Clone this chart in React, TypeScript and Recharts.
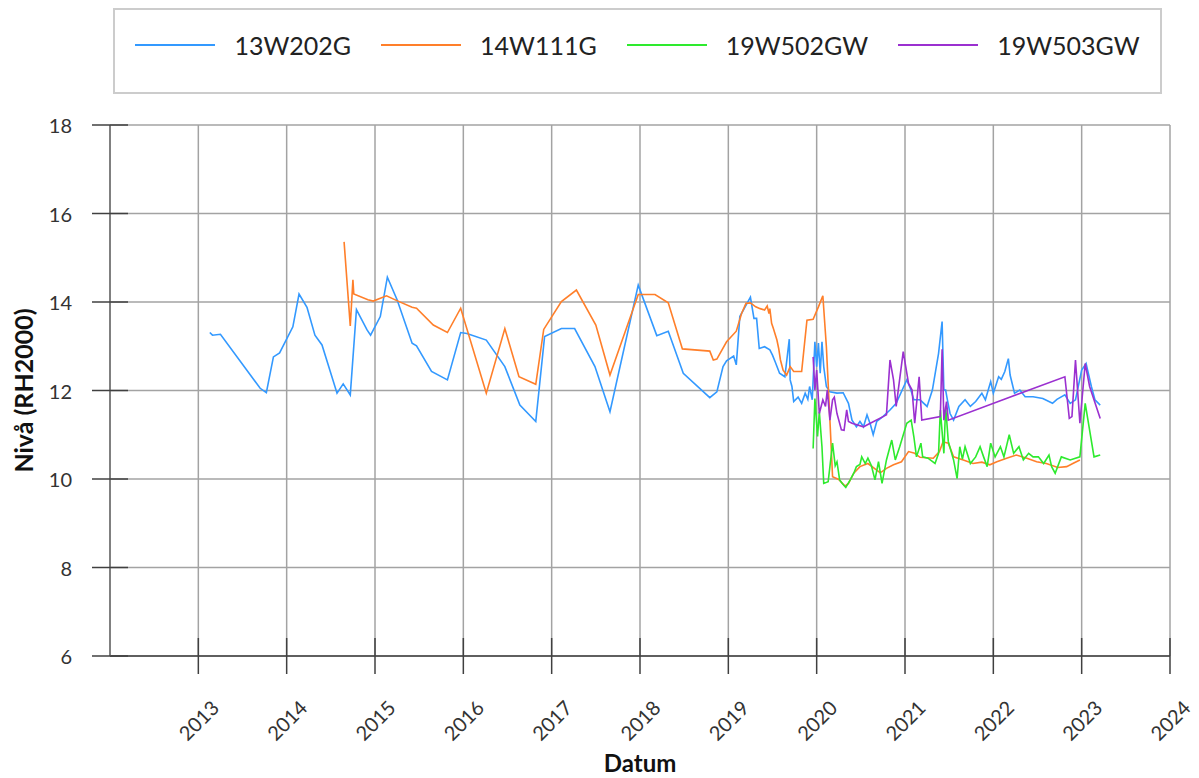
import { CartesianGrid, Label, Line, LineChart, XAxis, YAxis } from 'recharts';

// groundwater level per well, dates as decimal years, level in m (RH2000)
const years = [2013, 2014, 2015, 2016, 2017, 2018, 2019, 2020, 2021, 2022, 2023, 2024];
const levelTicks = [6, 8, 10, 12, 14, 16, 18];

const seriesNames  = ['13W202G', '14W111G', '19W502GW', '19W503GW'];
const seriesColors = ['#3399ff', '#ff7f2a', '#2eea2e', '#9b30d0'];

const dates13W202G = [
  2013.13, 2013.16, 2013.25, 2013.70, 2013.77, 2013.85, 2013.92, 2014.07, 2014.14, 2014.23,
  2014.32, 2014.40, 2014.57, 2014.64, 2014.72, 2014.79, 2014.91, 2014.95, 2015.06, 2015.14,
  2015.25, 2015.42, 2015.47, 2015.64, 2015.82, 2015.97, 2016.04, 2016.26, 2016.47, 2016.64,
  2016.82, 2016.92, 2017.11, 2017.26, 2017.49, 2017.66, 2017.98, 2018.19, 2018.32, 2018.49,
  2018.79, 2018.87, 2018.94, 2018.98, 2019.06, 2019.09, 2019.13, 2019.25, 2019.29, 2019.32,
  2019.35, 2019.41, 2019.47, 2019.50, 2019.53, 2019.58, 2019.64, 2019.69, 2019.70, 2019.72,
  2019.74, 2019.79, 2019.83, 2019.87, 2019.90, 2019.92, 2019.95, 2019.98, 2020.00, 2020.02,
  2020.04, 2020.06, 2020.08, 2020.11, 2020.15, 2020.23, 2020.30, 2020.36, 2020.40, 2020.45,
  2020.49, 2020.53, 2020.57, 2020.61, 2020.64, 2020.68, 2020.75, 2020.83, 2020.90, 2021.02,
  2021.06, 2021.10, 2021.17, 2021.25, 2021.31, 2021.38, 2021.42, 2021.44, 2021.46, 2021.48,
  2021.51, 2021.55, 2021.61, 2021.68, 2021.74, 2021.80, 2021.87, 2021.91, 2021.97, 2022.00,
  2022.06, 2022.09, 2022.13, 2022.17, 2022.19, 2022.24, 2022.30, 2022.36, 2022.45, 2022.56,
  2022.67, 2022.72, 2022.81, 2022.87, 2022.93, 2023.00, 2023.05, 2023.11, 2023.15, 2023.21,
];
const levels13W202G = [
  13.31, 13.25, 13.27, 12.05, 11.95, 12.76, 12.85, 13.44, 14.18, 13.88,
  13.25, 13.03, 11.94, 12.15, 11.90, 13.83, 13.37, 13.25, 13.67, 14.56,
  14.05, 13.07, 13.01, 12.43, 12.24, 13.31, 13.29, 13.14, 12.54, 11.67,
  11.30, 13.22, 13.40, 13.40, 12.54, 11.52, 14.38, 13.24, 13.34, 12.39,
  11.84, 11.97, 12.54, 12.67, 12.78, 12.58, 13.67, 14.11, 13.63, 13.63,
  12.95, 12.99, 12.92, 12.80, 12.65, 12.39, 12.31, 13.16, 12.24, 12.09,
  11.75, 11.85, 11.71, 11.94, 11.80, 12.09, 11.79, 13.10, 12.54, 13.07,
  12.39, 13.10, 12.54, 12.09, 11.97, 11.94, 11.95, 11.71, 11.33, 11.18,
  11.30, 11.18, 11.45, 11.22, 11.00, 11.30, 11.41, 11.56, 11.71, 12.24,
  12.05, 11.79, 11.79, 11.64, 12.01, 12.84, 13.56, 12.01, 12.01, 11.79,
  11.48, 11.33, 11.64, 11.79, 11.64, 11.75, 11.94, 11.79, 12.20, 11.94,
  12.31, 12.25, 12.43, 12.72, 12.35, 11.94, 12.01, 11.86, 11.86, 11.82,
  11.71, 11.80, 11.90, 11.71, 11.79, 12.46, 12.61, 12.09, 11.79, 11.67,
];

const dates14W111G = [
  2014.65, 2014.72, 2014.75, 2014.76, 2014.92, 2014.98, 2015.13, 2015.26, 2015.42, 2015.47,
  2015.66, 2015.82, 2015.97, 2016.26, 2016.47, 2016.63, 2016.82, 2016.91, 2017.11, 2017.28,
  2017.50, 2017.66, 2017.98, 2018.17, 2018.32, 2018.48, 2018.79, 2018.83, 2018.87, 2018.98,
  2019.09, 2019.15, 2019.20, 2019.25, 2019.31, 2019.36, 2019.41, 2019.44, 2019.46, 2019.47,
  2019.49, 2019.51, 2019.55, 2019.57, 2019.59, 2019.62, 2019.66, 2019.70, 2019.74, 2019.83,
  2019.89, 2019.96, 2020.02, 2020.07, 2020.11, 2020.15, 2020.18, 2020.25, 2020.32, 2020.36,
  2020.42, 2020.49, 2020.58, 2020.68, 2020.72, 2020.79, 2020.87, 2020.96, 2021.04, 2021.11,
  2021.17, 2021.32, 2021.39, 2021.43, 2021.49, 2021.55, 2021.66, 2021.77, 2021.87, 2021.96,
  2022.04, 2022.15, 2022.26, 2022.38, 2022.49, 2022.60, 2022.73, 2022.83, 2022.90, 2022.98,
];
const levels14W111G = [
  15.36, 13.46, 14.50, 14.18, 14.05, 14.02, 14.14, 14.02, 13.88, 13.86,
  13.48, 13.31, 13.86, 11.94, 13.40, 12.31, 12.14, 13.38, 14.01, 14.27,
  13.48, 12.35, 14.17, 14.17, 13.98, 12.94, 12.89, 12.69, 12.71, 13.10,
  13.34, 13.74, 13.97, 13.98, 13.89, 13.85, 13.82, 13.91, 13.74, 13.85,
  13.52, 13.40, 13.14, 12.95, 12.69, 12.46, 12.35, 12.54, 12.43, 12.43,
  13.59, 13.61, 13.89, 14.14, 12.99, 11.33, 10.05, 9.99, 9.84, 9.90,
  10.13, 10.28, 10.35, 10.20, 10.14, 10.24, 10.32, 10.39, 10.62, 10.58,
  10.49, 10.47, 10.62, 10.84, 10.81, 10.50, 10.43, 10.35, 10.38, 10.32,
  10.39, 10.47, 10.54, 10.47, 10.39, 10.35, 10.26, 10.28, 10.35, 10.43,
];

const dates19W502GW = [
  2019.96, 2019.98, 2020.01, 2020.03, 2020.06, 2020.08, 2020.13, 2020.15, 2020.18, 2020.21,
  2020.23, 2020.26, 2020.29, 2020.33, 2020.38, 2020.42, 2020.45, 2020.49, 2020.51, 2020.55,
  2020.58, 2020.62, 2020.66, 2020.70, 2020.74, 2020.79, 2020.85, 2020.89, 2020.94, 2021.02,
  2021.07, 2021.10, 2021.13, 2021.18, 2021.20, 2021.26, 2021.34, 2021.38, 2021.40, 2021.44,
  2021.46, 2021.49, 2021.55, 2021.59, 2021.62, 2021.65, 2021.68, 2021.74, 2021.80, 2021.85,
  2021.89, 2021.93, 2021.97, 2022.02, 2022.08, 2022.12, 2022.18, 2022.23, 2022.29, 2022.34,
  2022.40, 2022.45, 2022.51, 2022.57, 2022.63, 2022.66, 2022.70, 2022.77, 2022.87, 2022.98,
  2023.04, 2023.14, 2023.21,
];
const levels19W502GW = [
  10.69, 11.82, 10.96, 11.52, 10.73, 9.90, 9.94, 10.28, 10.81, 10.30,
  10.39, 9.98, 9.90, 9.81, 9.98, 10.13, 10.28, 10.33, 10.50, 10.35,
  10.47, 10.30, 9.98, 10.39, 9.90, 10.43, 10.88, 10.43, 10.73, 11.26,
  11.33, 10.96, 10.50, 10.81, 10.50, 10.47, 10.35, 10.58, 11.56, 10.58,
  11.64, 10.85, 10.43, 10.01, 10.73, 10.45, 10.73, 10.35, 10.50, 10.73,
  10.50, 10.28, 10.81, 10.50, 10.73, 10.50, 11.00, 10.58, 10.73, 10.43,
  10.58, 10.50, 10.50, 10.35, 10.54, 10.28, 10.13, 10.50, 10.43, 10.50,
  11.71, 10.50, 10.54,
];

const dates19W503GW = [
  2019.96, 2019.98, 2020.00, 2020.03, 2020.07, 2020.10, 2020.12, 2020.15, 2020.18, 2020.20,
  2020.23, 2020.26, 2020.28, 2020.31, 2020.34, 2020.36, 2020.40, 2020.53, 2020.79, 2020.83,
  2020.87, 2020.90, 2020.98, 2021.04, 2021.08, 2021.11, 2021.16, 2021.19, 2021.40, 2021.42,
  2021.44, 2021.47, 2021.49, 2022.81, 2022.86, 2022.89, 2022.93, 2022.98, 2023.04, 2023.09,
  2023.21,
];
const levels19W503GW = [
  12.76, 12.01, 12.46, 11.48, 11.79, 11.64, 12.01, 11.33, 11.79, 11.85,
  11.48, 11.26, 11.11, 11.10, 11.56, 11.30, 11.26, 11.18, 11.45, 12.69,
  12.24, 11.64, 12.88, 12.16, 12.01, 11.26, 12.31, 11.33, 11.41, 12.93,
  11.33, 11.75, 11.33, 12.31, 11.37, 11.41, 12.69, 11.26, 12.61, 12.09,
  11.37,
];

const zip = (dates: number[], levels: number[]) => dates.map((t, i) => ({ t, v: levels[i] }));

const seriesData = [
  zip(dates13W202G, levels13W202G),
  zip(dates14W111G, levels14W111G),
  zip(dates19W502GW, levels19W502GW),
  zip(dates19W503GW, levels19W503GW),
];

const FONT = 'Lato, "Open Sans", sans-serif';
const INK = '#333333';

function LevelTick({ x, y, payload }: any) {
  return (
    <g>
      <line x1={x - 18} x2={x + 18} y1={y} y2={y} stroke="#404040" strokeWidth={1.5} />
      <text x={x - 38} y={y} textAnchor="end" dominantBaseline="central"
        fontFamily={FONT} fontSize={20} fill={INK}>
        {payload.value}
      </text>
    </g>
  );
}

function YearTick({ x, y, payload }: any) {
  const ly = y + 64;
  return (
    <g>
      <line x1={x} x2={x} y1={y - 18} y2={y + 18} stroke="#404040" strokeWidth={1.5} />
      <text x={x} y={ly} textAnchor="middle" dominantBaseline="central"
        transform={`rotate(-45, ${x}, ${ly})`}
        fontFamily={FONT} fontSize={20} fill={INK}>
        {payload.value}
      </text>
    </g>
  );
}

function YTitle({ viewBox }: any) {
  const vb = viewBox ?? { x: 0, y: 125, width: 110, height: 531 };
  const cx = vb.x + 23;
  const cy = vb.y + vb.height / 2;
  return (
    <text x={cx} y={cy} textAnchor="middle" dominantBaseline="central"
      transform={`rotate(-90, ${cx}, ${cy})`}
      fontFamily={FONT} fontWeight="bold" fontSize={25} fill="#111">
      Nivå (RH2000)
    </text>
  );
}

function XTitle({ viewBox }: any) {
  const vb = viewBox ?? { x: 110, y: 656, width: 1060, height: 122 };
  return (
    <text x={vb.x + vb.width / 2} y={vb.y + 106} textAnchor="middle" dominantBaseline="central"
      fontFamily={FONT} fontWeight="bold" fontSize={24} fill="#111">
      Datum
    </text>
  );
}

function LegendBox() {
  return (
    <div style={{
      position: 'absolute', left: 113, top: 8, width: 1049, height: 86,
      boxSizing: 'border-box', border: '2px solid #cccccc',
      display: 'flex', justifyContent: 'center', alignItems: 'flex-start',
      paddingTop: 20, gap: 30, fontFamily: FONT, fontSize: 25, color: '#222',
    }}>
      {seriesNames.map((name, i) => (
        <div key={name} style={{ display: 'flex', alignItems: 'center', gap: 19, height: 30, lineHeight: '30px' }}>
          <span style={{ display: 'inline-block', width: 80, height: 2, background: seriesColors[i] }} />
          <span>{name}</span>
        </div>
      ))}
    </div>
  );
}

export default function App() {
  return (
    <div style={{ position: 'absolute', left: 0, top: 0, width: 1199, height: 778, background: '#fff' }}>
      <LineChart width={1199} height={778} margin={{ top: 125, right: 29, bottom: 0, left: 0 }}>
        <CartesianGrid stroke="#a3a3a3" strokeWidth={1.5} />
        <XAxis
          type="number"
          dataKey="t"
          domain={[2012, 2024]}
          ticks={years}
          interval={0}
          allowDataOverflow
          height={122}
          tickSize={0}
          tickMargin={0}
          tickLine={false}
          axisLine={{ stroke: '#404040', strokeWidth: 1.5 }}
          tick={<YearTick />}
        >
          <Label content={<XTitle />} />
        </XAxis>
        <YAxis
          type="number"
          domain={[6, 18]}
          ticks={levelTicks}
          interval={0}
          allowDataOverflow
          width={110}
          tickSize={0}
          tickMargin={0}
          tickLine={false}
          axisLine={{ stroke: '#808080', strokeWidth: 2 }}
          tick={<LevelTick />}
        >
          <Label content={<YTitle />} />
        </YAxis>
        {seriesNames.map((name, i) => (
          <Line
            key={name}
            name={name}
            data={seriesData[i]}
            dataKey="v"
            type="linear"
            stroke={seriesColors[i]}
            strokeWidth={1.6}
            dot={false}
            activeDot={false}
            isAnimationActive={false}
          />
        ))}
      </LineChart>
      <LegendBox />
    </div>
  );
}
